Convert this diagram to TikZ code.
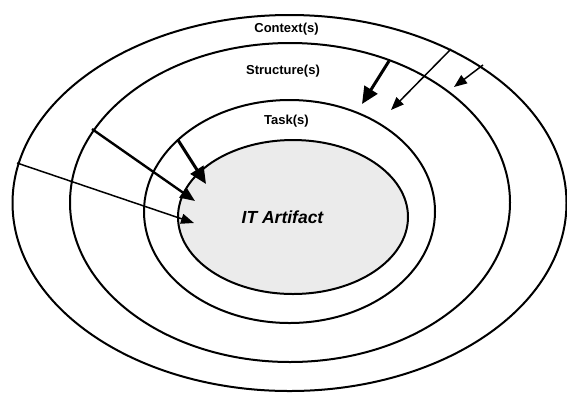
\documentclass[tikz,border=0pt]{standalone}
\usepackage{fontspec}
\setmainfont{Liberation Sans}
\usetikzlibrary{shapes.geometric,arrows.meta}
\begin{document}
\begin{tikzpicture}[x=1pt,y=-1pt,
  ring/.style={draw=black,line width=2pt,ellipse,inner sep=0pt},
  lbl/.style={font=\fontsize{13}{15}\selectfont\bfseries,inner sep=0pt},
  thinarrow/.style={line width=1.5pt,-{Triangle[length=13pt,width=10pt]}},
  medarrow/.style={line width=2.4pt,-{Triangle[length=15pt,width=12pt]}},
  thickarrow/.style={line width=3pt,-{Triangle[length=17pt,width=15pt]}}]
\useasboundingbox (0,0) rectangle (567,392);
\node[ring,minimum width=554pt,minimum height=376pt] (context) at (289.5,203) {};
\node[ring,minimum width=440pt,minimum height=319pt] (structure) at (290,202.5) {};
\node[ring,minimum width=291pt,minimum height=223pt] (task) at (289.5,211.5) {};
\node[ring,fill=black!8,minimum width=230pt,minimum height=154pt] (it) at (293,217) {};
\node[lbl] (lcontext) at (286.5,29) {Context(s)};
\node[lbl] (lstructure) at (283,71) {Structure(s)};
\node[lbl] (ltask) at (286.5,121.5) {Task(s)};
\node[font=\fontsize{17.5}{20}\selectfont\bfseries\itshape,inner sep=0pt] (lit) at (282.5,217) {IT Artifact};
% arrow endpoints
\coordinate (a1s) at (389,61);   \coordinate (a1e) at (362,104);
\coordinate (a2s) at (451,49);   \coordinate (a2e) at (391,110);
\coordinate (a3s) at (483,65);   \coordinate (a3e) at (454,87);
\coordinate (a4s) at (17,163);   \coordinate (a4e) at (194,223);
\coordinate (a5s) at (92,129);   \coordinate (a5e) at (195,201);
\coordinate (a6s) at (178,140);  \coordinate (a6e) at (206,184);
\draw[thickarrow] (a1s) -- (a1e);
\draw[thinarrow] (a2s) -- (a2e);
\draw[thinarrow] (a3s) -- (a3e);
\draw[thinarrow] (a4s) -- (a4e);
\draw[medarrow] (a5s) -- (a5e);
\draw[thickarrow] (a6s) -- (a6e);
\end{tikzpicture}
\end{document}
